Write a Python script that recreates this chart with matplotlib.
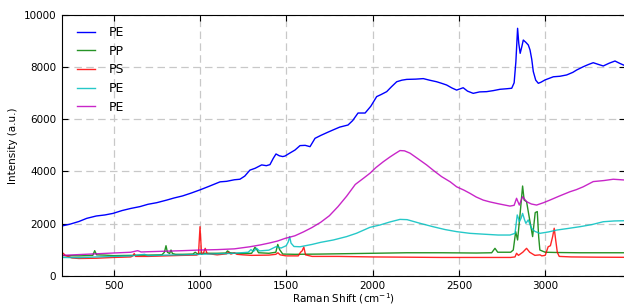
import matplotlib
matplotlib.use("Agg")
import matplotlib.pyplot as plt
from matplotlib.ticker import MultipleLocator

# --- spectra (Raman shift in cm^-1, intensity in a.u.) ---
pe1_shift = [200, 250, 300, 345, 400, 450, 497, 550, 600, 653, 700, 750, 808, 850, 900, 950,
             1000, 1050, 1117, 1155, 1200, 1232, 1260, 1290, 1320, 1358, 1385, 1406, 1425, 1441,
             1460, 1480, 1493, 1520, 1551, 1580, 1610, 1638, 1667, 1700, 1740, 1771, 1810, 1858,
             1885, 1916, 1957, 1990, 2024, 2050, 2082, 2110, 2140, 2170, 2198, 2250, 2294, 2330,
             2371, 2400, 2429, 2460, 2487, 2525, 2550, 2583, 2620, 2661, 2700, 2738, 2775, 2806,
             2820, 2830, 2840, 2847, 2855, 2865, 2873, 2888, 2902, 2912, 2922, 2931, 2945, 2960,
             2975, 2999, 3047, 3085, 3124, 3160, 3182, 3220, 3250, 3278, 3310, 3336, 3370, 3404,
             3430, 3462]
pe1_int = [1906, 1980, 2080, 2200, 2290, 2330, 2390, 2500, 2580, 2650, 2740, 2800, 2900, 2980,
           3060, 3170, 3290, 3420, 3600, 3620, 3680, 3700, 3820, 4050, 4120, 4250, 4220, 4260,
           4500, 4670, 4600, 4570, 4590, 4700, 4820, 4990, 5000, 4950, 5270, 5380, 5500, 5590,
           5700, 5780, 5950, 6240, 6240, 6500, 6870, 6950, 7060, 7250, 7440, 7500, 7530, 7540,
           7560, 7500, 7440, 7380, 7315, 7200, 7120, 7210, 7080, 6995, 7050, 7060, 7100, 7150,
           7170, 7190, 7400, 8200, 9490, 8900, 8530, 8800, 9040, 8950, 8850, 8660, 8300, 7830,
           7500, 7380, 7420, 7510, 7630, 7650, 7700, 7800, 7890, 8015, 8100, 8170, 8100, 8045,
           8150, 8235, 8150, 8055]

pp_shift = [200, 300, 380, 391, 402, 450, 500, 600, 700, 780, 795, 804, 812, 825, 833, 841, 860,
            900, 960, 973, 985, 1000, 1100, 1150, 1160, 1175, 1200, 1250, 1300, 1319, 1330, 1340,
            1400, 1440, 1451, 1462, 1480, 1550, 1700, 1900, 2100, 2200, 2400, 2600, 2690, 2709,
            2725, 2800, 2815, 2829, 2840, 2853, 2869, 2878, 2892, 2907, 2927, 2942, 2954, 2962,
            2969, 3000, 3066, 3200, 3462]
pp_int = [770, 760, 780, 960, 800, 790, 770, 780, 790, 800, 900, 1150, 900, 850, 985, 850, 820,
          820, 830, 900, 840, 860, 860, 870, 950, 880, 860, 850, 860, 1090, 1000, 880,
          860, 900, 1200, 1000, 830, 820, 830, 850, 870, 880, 880, 870, 880, 1050,
          900, 900, 985, 1690, 1370, 2260, 3440, 2900, 2840, 2260, 1500, 2420, 2460, 1500,
          985, 900, 890, 880, 880]

ps_shift = [200, 209, 220, 260, 300, 400, 500, 600, 612, 620, 628, 700, 800, 900, 980, 992, 1001,
            1010, 1020, 1031, 1042, 1100, 1155, 1165, 1180, 1200, 1215, 1250, 1300, 1400, 1440,
            1452, 1465, 1500, 1570, 1583, 1592, 1602, 1612, 1650, 1800, 2000, 2200, 2400, 2600,
            2800, 2825, 2834, 2845, 2870, 2892, 2910, 2940, 2970, 2980, 3000, 3017, 3030, 3043,
            3052, 3060, 3070, 3081, 3150, 3300, 3462]
ps_int = [780, 860, 780, 680, 660, 670, 700, 720, 760, 850, 740, 740, 760, 780, 790, 820, 1880,
          820, 860, 1050, 850, 800, 840, 900, 830, 880, 820, 800, 780, 790, 820,
          880, 800, 760, 760, 900, 950, 1100, 800, 740, 740, 720, 710, 700, 700,
          700, 720, 860, 780, 900, 1050, 900, 780, 800, 760, 780, 1110, 1150, 1500,
          1820, 1400, 900, 740, 720, 710, 705]

pe2_shift = [200, 300, 400, 500, 600, 680, 700, 800, 900, 1000, 1100, 1200, 1280, 1296, 1310,
             1329, 1345, 1400, 1440, 1450, 1470, 1500, 1512, 1520, 1528, 1545, 1580, 1650, 1700,
             1773, 1850, 1908, 1985, 2043, 2100, 2159, 2200, 2275, 2350, 2420, 2487, 2564, 2650,
             2728, 2796, 2825, 2838, 2845, 2850, 2860, 2869, 2880, 2888, 2902, 2910, 2921, 2940,
             2969, 3020, 3066, 3130, 3201, 3270, 3336, 3400, 3462]
pe2_int = [700, 690, 720, 740, 760, 820, 770, 790, 800, 820, 840, 860, 900, 1000, 930,
           1050, 950, 980, 1110, 1100, 1060, 1150, 1300, 1500, 1250, 1120, 1110, 1200, 1280,
           1370, 1500, 1630, 1855, 1945, 2060, 2160, 2150, 2010, 1880, 1770, 1690, 1625, 1590,
           1560, 1560, 1625, 2330, 2200, 2070, 2200, 2390, 2150, 2010, 2140, 2000, 1820, 1700,
           1625, 1680, 1750, 1810, 1880, 1960, 2070, 2100, 2110]

pe3_shift = [200, 300, 400, 500, 600, 640, 660, 700, 800, 900, 1000, 1100, 1200, 1290, 1350,
             1400, 1450, 1493, 1550, 1600, 1650, 1700, 1750, 1800, 1850, 1900, 1950, 1985, 2020,
             2062, 2100, 2130, 2159, 2185, 2217, 2260, 2313, 2360, 2400, 2450, 2487, 2530, 2564,
             2600, 2641, 2680, 2728, 2796, 2820, 2834, 2850, 2869, 2892, 2920, 2950, 2990, 3027,
             3080, 3143, 3180, 3220, 3278, 3340, 3394, 3462]
pe3_int = [780, 810, 840, 870, 900, 960, 910, 920, 940, 960, 985, 1000, 1030, 1110, 1180,
           1250, 1330, 1430, 1530, 1680, 1850, 2050, 2300, 2650, 3050, 3500, 3750, 3930, 4150,
           4370, 4550, 4680, 4800, 4790, 4700, 4500, 4250, 4000, 3800, 3600, 3410, 3280, 3160,
           3020, 2900, 2830, 2760, 2670, 2700, 2970, 2710, 3030, 2840, 2750, 2710, 2800, 2900,
           3050, 3220, 3300, 3410, 3610, 3650, 3700, 3670]

labels = ["PE", "PP", "PS", "PE", "PE"]
colors = ["b", "g", "r", "c", "m"]

plt.rcParams["font.family"] = "DejaVu Sans"

fig = plt.figure(figsize=(6.24, 3.05), dpi=100)
ax = fig.add_axes([61.7 / 624, 29.3 / 305, (625 - 61.7) / 624, (275.7 - 15) / 305])

series = [(pe1_shift, pe1_int), (pp_shift, pp_int), (ps_shift, ps_int),
          (pe2_shift, pe2_int), (pe3_shift, pe3_int)]
for (xs, ys), lab, col in zip(series, labels, colors):
    a = 1.0 if col == "b" else 0.85
    ax.plot(xs, ys, color=col, lw=1.0, alpha=a, label=lab)

ax.set_xlim(200, 3462)
ax.set_ylim(0, 10000)
ax.xaxis.set_major_locator(MultipleLocator(500))
ax.yaxis.set_major_locator(MultipleLocator(2000))
ax.tick_params(direction="in", top=True, right=True, length=4, width=0.8,
               labelsize=7.5, pad=4)
ax.grid(True, color="#c8c8c8", linestyle=(0, (6, 3.5)), linewidth=0.9)
ax.set_axisbelow(True)

ax.set_xlabel("Raman Shift (cm$^{-1}$)", fontsize=7.5, labelpad=0)
ax.set_ylabel("Intensity (a.u.)", fontsize=7.5, labelpad=4)

ax.legend(loc="upper left", bbox_to_anchor=(0, 1.015), frameon=False, fontsize=9,
          handlelength=1.5, handletextpad=1.1, labelspacing=0.45, borderaxespad=0.8)

fig.savefig("out.png", dpi=100, facecolor="white")
